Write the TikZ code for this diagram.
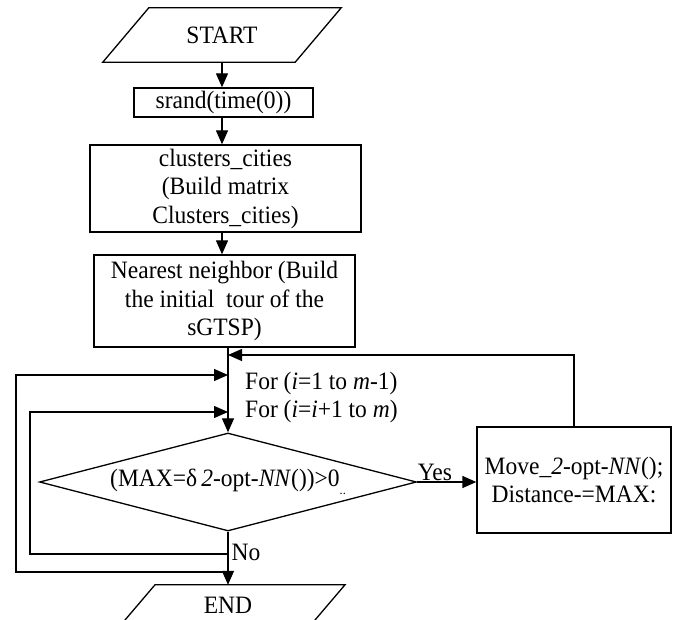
\documentclass[tikz,border=0pt]{standalone}
\usepackage{fontspec}
\setmainfont[FakeStretch=0.94]{Liberation Serif}
\usetikzlibrary{arrows.meta,shapes.geometric,calc}
\begin{document}
\begin{tikzpicture}[x=1pt,y=-1pt,
  txt/.style={font=\fontsize{25}{28.5}\selectfont, text=black},
  box/.style={txt, draw, line width=1.3pt, rectangle, inner sep=0pt, align=center},
  flow/.style={line width=1.3pt, -{Triangle[length=14pt,width=12pt]}},
  plain/.style={line width=1.3pt},
]
\clip (0,0) rectangle (678,620);
% START
\node[txt, minimum width=192, minimum height=54, inner sep=0pt] (start) at (222,35) {START};
\draw[plain] ($(start.south west)+(-23,0)$) -- ($(start.south east)+(-23,0)$) -- ($(start.north east)+(23,0)$) -- ($(start.north west)+(23,0)$) -- cycle;
% boxes
\node[box, minimum width=179, minimum height=29] (srand) at (223.5,102.5) {srand(time(0))};
\node[box, minimum width=271, minimum height=87] (clus) at (225.5,188.5) {clusters\_cities\\(Build matrix\\Clusters\_cities)};
\node[box, minimum width=261, minimum height=92] (near) at (224.5,301) {Nearest neighbor (Build\\the initial\ \ tour of the\\sGTSP)};
\node[txt, draw, plain, diamond, aspect=3.85, minimum width=377, minimum height=98, inner sep=0pt] (dia) at (228,482) {(MAX=δ\,\textit{2}-opt-\textit{NN}())>0\raisebox{-8pt}{\fontsize{13}{13}\selectfont ..}};
\node[box, minimum width=194, minimum height=106] (move) at (574,480) {Move\_\textit{2}-opt-\textit{NN}();\\Distance-=MAX:};
\node[txt, inner sep=0pt, minimum width=190, minimum height=40] (endn) at (228,605) {END};
\draw[plain] ($(endn.north)+(-73,0)$) -- ($(endn.north)+(117,0)$) -- ($(endn.north)+(71,54)$) -- ($(endn.north)+(-119,54)$) -- cycle;
% loop texts
\node[txt, anchor=west, inner sep=0pt] (for1) at (245,383) {For (\textit{i}=1 to \textit{m}-1)};
\node[txt, anchor=west, inner sep=0pt] (for2) at (245,411) {For (\textit{i}=\textit{i}+1 to \textit{m})};
% junctions on the main line
\coordinate (jr) at (228,355);
\coordinate (j1) at (228,375);
\coordinate (j2) at (228,412);
\coordinate (b1) at (228,554);
\coordinate (b2) at (228,572);
% connectors
\draw[flow] (start.south) -- (start.south |- srand.north);
\draw[flow] (start.south |- srand.south) -- (start.south |- clus.north);
\draw[flow] (start.south |- clus.south) -- (start.south |- near.north);
\draw[flow] (near.south -| dia.north) -- (dia.north);
\draw[flow] (move.north) |- (jr);
\draw[flow] (dia.east) -- node[pos=0.3, above, txt, inner sep=1pt] (yes) {Yes} (dia.east -| move.west);
\draw[flow] (dia.south) -- node[pos=0.39, right, txt, inner sep=3pt] (no) {No} (endn.north);
\draw[flow] (b1) -- (30,554) -- (30,412) -- (j2);
\draw[flow] (b2) -- (16,572) -- (16,375) -- (j1);
\end{tikzpicture}
\end{document}
